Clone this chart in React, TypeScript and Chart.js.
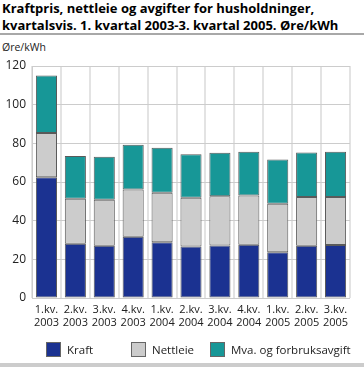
import React, { useEffect, useRef } from "react";
import { Chart, registerables } from "chart.js";

Chart.register(...registerables);

const categories: string[][] = [
  ["1.kv.", "2003"], ["2.kv.", "2003"], ["3.kv.", "2003"], ["4.kv.", "2003"],
  ["1.kv.", "2004"], ["2.kv.", "2004"], ["3.kv.", "2004"], ["4.kv.", "2004"],
  ["1.kv.", "2005"], ["2.kv.", "2005"], ["3.kv.", "2005"],
];
const kraft = [62.4, 28.0, 27.0, 31.7, 28.9, 26.7, 27.2, 27.5, 23.7, 27.0, 27.4];
const nettleie = [23.0, 23.3, 23.8, 24.4, 25.5, 25.1, 25.4, 25.5, 25.0, 25.3, 24.9];
const mva = [29.7, 22.1, 22.3, 23.2, 23.3, 22.6, 22.5, 22.6, 23.0, 23.0, 23.3];
const seriesNames = ["Kraft", "Nettleie", "Mva. og forbruksavgift"];
const seriesColors = ["#1b3291", "#cccccc", "#179797"];
const titleLines = [
  "Kraftpris, nettleie og avgifter for husholdninger,",
  "kvartalsvis. 1. kvartal 2003-3. kvartal 2005. Øre/kWh",
];
const unitLabel = "Øre/kWh";

const FONT = "'Open Sans', sans-serif";

export default function App() {
  const ref = useRef<HTMLCanvasElement | null>(null);

  useEffect(() => {
    document.body.style.margin = "0";
    const ctx = ref.current!;
    const chart = new Chart(ctx, {
      type: "bar",
      data: {
        labels: categories,
        datasets: [kraft, nettleie, mva].map((d, i) => ({
          label: seriesNames[i],
          data: d,
          backgroundColor: seriesColors[i],
          borderColor: "#5a5a5a",
          borderWidth: 1,
          borderSkipped: false,
          categoryPercentage: 1,
          barPercentage: 0.73,
        })),
      },
      options: {
        animation: false,
        responsive: false,
        maintainAspectRatio: false,
        layout: { padding: { left: 0, right: 14, top: 66, bottom: 0 } },
        plugins: { legend: { display: false }, title: { display: false }, tooltip: { enabled: false } },
        scales: {
          x: {
            stacked: true,
            grid: { color: "#e3e3e3", lineWidth: 2, drawTicks: false, offset: true },
            border: { display: false },
            ticks: { color: "#222", font: { family: FONT, size: 11 }, padding: 5, maxRotation: 0, autoSkip: false },
            afterFit: (s: any) => { s.height = 69; },
          },
          y: {
            stacked: true,
            min: 0,
            max: 120,
            ticks: { stepSize: 20, color: "#222", font: { family: FONT, size: 12 }, padding: 6 },
            grid: { color: "#cccccc", lineWidth: 1, drawTicks: false },
            border: { display: true, color: "#cccccc" },
            afterFit: (s: any) => { s.width = 32; },
          },
        },
      },
    });
    return () => chart.destroy();
  }, []);

  const legendPos = [46, 131, 210];

  return (
    <div style={{ position: "relative", width: 364, height: 367, overflow: "hidden", fontFamily: FONT, background: "#fff" }}>
      <div style={{ position: "absolute", left: 2, top: 0, fontWeight: "bold", fontSize: 13, lineHeight: "17px", color: "#000", whiteSpace: "nowrap" }}>
        {titleLines.map((t, i) => <div key={i}>{t}</div>)}
      </div>
      <div style={{ position: "absolute", left: 0, top: 33, width: 364, height: 1.5, background: "#a8a8a8" }} />
      <div style={{ position: "absolute", left: 2, top: 40, fontSize: 10.5, color: "#222" }}>{unitLabel}</div>
      <canvas ref={ref} width={364} height={367} style={{ position: "absolute", left: 0, top: 0 }} />
      {seriesNames.map((n, i) => (
        <div key={n} style={{ position: "absolute", left: legendPos[i], top: 342, display: "flex", alignItems: "center", fontSize: 11.5, color: "#222", whiteSpace: "nowrap" }}>
          <div style={{ width: 15, height: 15, background: seriesColors[i], border: "1px solid #666", marginRight: 6, boxSizing: "border-box" }} />
          <span>{n}</span>
        </div>
      ))}
      <div style={{ position: "absolute", left: 0, top: 363, width: 364, height: 4, background: "#cccccc" }} />
    </div>
  );
}
